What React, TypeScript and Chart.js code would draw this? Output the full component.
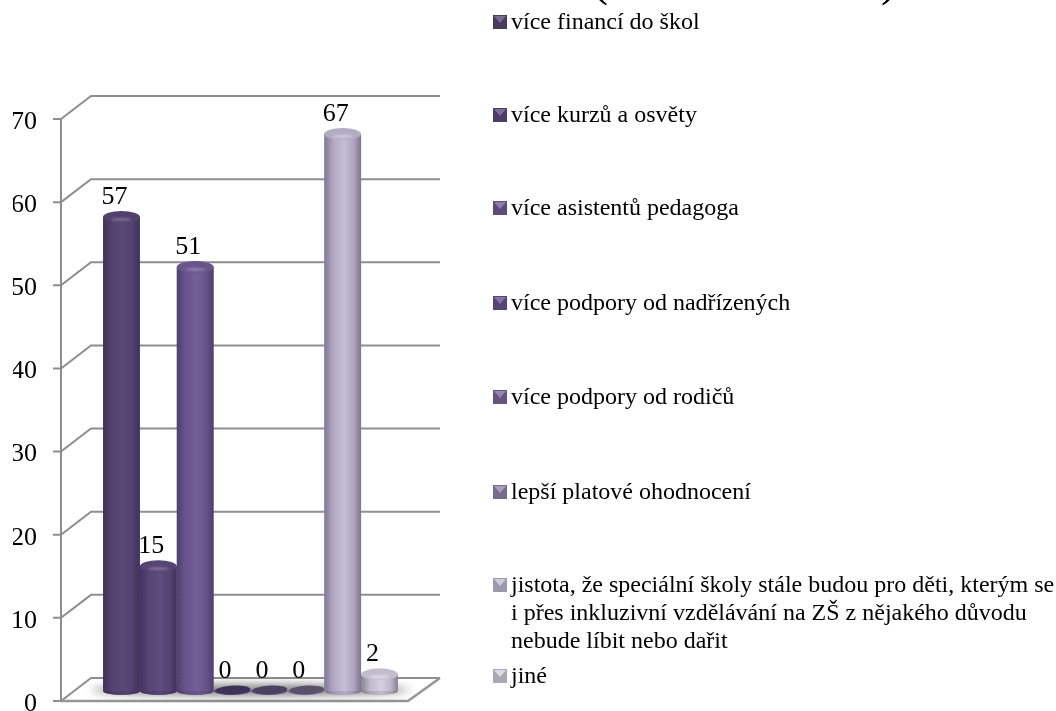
import React, { useEffect, useRef } from "react";
import { Chart, registerables } from "chart.js";

Chart.register(...registerables);

const categoryLabels = [""];
const seriesNames = [
  "více financí do škol",
  "více kurzů a osvěty",
  "více asistentů pedagoga",
  "více podpory od nadřízených",
  "více podpory od rodičů",
  "lepší platové ohodnocení",
  "jistota, že speciální školy stále budou pro děti, kterým se",
  "jiné",
];
const seriesValues = [57, 15, 51, 0, 0, 0, 67, 2];
const seriesColors = ["#5b4878", "#5f4c80", "#745f9a", "#6b5790", "#7e6ca0", "#9488b0", "#c6bed8", "#d6d2e2"];
const legendContinuation = ["i přes inkluzivní vzdělávání na ZŠ z nějakého důvodu", "nebude líbit nebo dařit"];
const legendRowCentres = [22, 115, 208, 303, 397, 492, 585, 676];
const tickStep = 10;
const axisMax = 70;

const SERIF = '"Liberation Serif", serif';
const AXIS_FONT = 26;
const LEGEND_FONT = 24;
// Offsets of the front edge and back wall from the plane the cylinders stand in.
const FRONT = { dx: -15, dy: 10 };
const BACK = { dx: 15, dy: -13 };
const CAP_RY = 6;

function shade(hex: string, k: number): string {
  const n = parseInt(hex.slice(1), 16);
  const c = [(n >> 16) & 255, (n >> 8) & 255, n & 255].map((v) =>
    Math.round(k <= 1 ? v * k : v + (255 - v) * (k - 1))
  );
  return `rgb(${c[0]},${c[1]},${c[2]})`;
}

// Walls, floor and tick marks of the 3D frame, all derived from the value scale.
const framePlugin = {
  id: "frame",
  beforeDatasetsDraw(chart: any) {
    const { ctx, chartArea, scales } = chart;
    const y = scales.y;
    const fl = chartArea.left + FRONT.dx;
    const fr = chartArea.right + FRONT.dx - 2;
    const bl = chartArea.left + BACK.dx;
    const br = chartArea.right + BACK.dx;
    ctx.save();
    ctx.strokeStyle = "#8e8e8e";
    ctx.lineWidth = 2;
    for (let v = 0; v <= axisMax; v += tickStep) {
      const p = y.getPixelForValue(v);
      ctx.beginPath();
      ctx.moveTo(fl - 8, p + FRONT.dy);
      ctx.lineTo(fl, p + FRONT.dy);
      ctx.lineTo(bl, p + BACK.dy);
      ctx.lineTo(br, p + BACK.dy);
      ctx.stroke();
    }
    const p0 = y.getPixelForValue(0);
    ctx.beginPath();
    ctx.moveTo(fl, y.getPixelForValue(axisMax) + FRONT.dy);
    ctx.lineTo(fl, p0 + FRONT.dy);
    ctx.stroke();
    ctx.lineWidth = 2.5;
    ctx.strokeStyle = "#969696";
    ctx.beginPath();
    ctx.moveTo(fl, p0 + FRONT.dy);
    ctx.lineTo(fr, p0 + FRONT.dy);
    ctx.lineTo(br, p0 + BACK.dy);
    ctx.stroke();

    // Soft shadow on the floor and the cylinder bases.
    const bars = chart.data.datasets.map((_: any, i: number) => chart.getDatasetMeta(i).data[0]);
    const first = bars[0];
    const last = bars[bars.length - 1];
    ctx.save();
    ctx.filter = "blur(4px)";
    ctx.fillStyle = "rgba(40,40,40,0.6)";
    ctx.beginPath();
    ctx.ellipse(
      (first.x + last.x) / 2,
      p0 - 1,
      (last.x - first.x) / 2 + first.width / 2 + 12,
      5.5,
      0,
      0,
      Math.PI * 2
    );
    ctx.fill();
    ctx.restore();
    bars.forEach((b: any, i: number) => {
      ctx.fillStyle = shade(seriesColors[i], 0.9);
      ctx.beginPath();
      ctx.ellipse(b.x, b.base, b.width / 2, 4, 0, 0, Math.PI * 2);
      ctx.fill();
    });
    ctx.restore();
  },
  // Rounds each bar into a cylinder: side shading, lit top cap, value above.
  afterDatasetsDraw(chart: any) {
    const { ctx } = chart;
    ctx.save();
    chart.data.datasets.forEach((ds: any, i: number) => {
      const b = chart.getDatasetMeta(i).data[0];
      const color = seriesColors[i];
      const l = b.x - b.width / 2;
      const r = b.x + b.width / 2;
      const flat = ds.data[0] === 0;
      if (!flat) {
        const g = ctx.createLinearGradient(l, 0, r, 0);
        g.addColorStop(0, "rgba(25,15,45,0.4)");
        g.addColorStop(0.25, "rgba(25,15,45,0.12)");
        g.addColorStop(0.55, "rgba(25,15,45,0)");
        g.addColorStop(0.8, "rgba(25,15,45,0.14)");
        g.addColorStop(1, "rgba(25,15,45,0.42)");
        ctx.fillStyle = g;
        ctx.beginPath();
        ctx.moveTo(l, b.y);
        ctx.lineTo(l, b.base);
        ctx.ellipse(b.x, b.base, b.width / 2, 4, 0, Math.PI, 0, true);
        ctx.lineTo(r, b.y);
        ctx.closePath();
        ctx.fill();
        ctx.fillStyle = shade(color, 0.9);
        ctx.beginPath();
        ctx.ellipse(b.x, b.y, b.width / 2, CAP_RY, 0, 0, Math.PI * 2);
        ctx.fill();
        ctx.save();
        ctx.filter = "blur(1px)";
        ctx.fillStyle = shade(color, 1.22);
        ctx.beginPath();
        ctx.ellipse(b.x, b.y + 2.5, b.width / 3.5, 1.5, 0, 0, Math.PI * 2);
        ctx.fill();
        ctx.restore();
      } else {
        ctx.fillStyle = shade(color, 0.6);
        ctx.beginPath();
        ctx.ellipse(b.x + 1, b.base - 1, b.width / 2 - 1, 4.5, -0.05, 0, Math.PI * 2);
        ctx.fill();
      }
      ctx.fillStyle = "#000";
      ctx.font = `${AXIS_FONT}px ${SERIF}`;
      ctx.textAlign = "center";
      ctx.textBaseline = "middle";
      ctx.fillText(String(ds.data[0]), b.x - 7, b.y - 20);
    });
    ctx.restore();
  },
};

// Legend on the right, with bevelled swatches and the cropped heading above it.
const legendPlugin = {
  id: "sideLegend",
  afterDraw(chart: any) {
    const { ctx } = chart;
    ctx.save();
    ctx.fillStyle = "#000";
    ctx.font = `48px ${SERIF}`;
    ctx.textAlign = "center";
    ctx.textBaseline = "alphabetic";
    ctx.fillText("(", 600, -5);
    ctx.fillText(")", 889, -5);

    ctx.font = `${LEGEND_FONT}px ${SERIF}`;
    ctx.textAlign = "left";
    ctx.textBaseline = "middle";
    seriesNames.forEach((name, i) => {
      const cy = legendRowCentres[i];
      const x = 493;
      const y = cy - 7;
      const s = 14;
      ctx.fillStyle = shade(seriesColors[i], 0.8);
      ctx.fillRect(x, y, s, s);
      ctx.fillStyle = shade(seriesColors[i], 1.18);
      ctx.beginPath();
      ctx.moveTo(x + 1, y + 1);
      ctx.lineTo(x + s - 1, y + 1);
      ctx.lineTo(x + s / 2, y + s / 2 + 1);
      ctx.closePath();
      ctx.fill();
      ctx.fillStyle = "#000";
      ctx.fillText(name, 511, cy + 1);
    });
    legendContinuation.forEach((line, i) => {
      ctx.fillText(line, 511, legendRowCentres[6] + 1 + 28 * (i + 1));
    });
    ctx.restore();
  },
};

export default function App() {
  const ref = useRef<HTMLCanvasElement>(null);

  useEffect(() => {
    const chart = new Chart(ref.current!, {
      type: "bar",
      data: {
        labels: categoryLabels,
        datasets: seriesNames.map((name, i) => ({
          label: name,
          data: [seriesValues[i]],
          backgroundColor: seriesColors[i],
          borderWidth: 0,
          barPercentage: 1,
          categoryPercentage: 0.845,
        })),
      },
      options: {
        responsive: false,
        animation: false,
        layout: { padding: { left: 13, right: 631, top: 109, bottom: 20 } },
        plugins: { legend: { display: false }, title: { display: false }, tooltip: { enabled: false } },
        scales: {
          x: { display: false },
          y: {
            min: 0,
            max: axisMax,
            grid: { display: false, drawTicks: false },
            border: { display: false },
            afterFit(axis: any) {
              // The wide gap holds the receding left wall, so the axis box is set directly.
              axis.width = 63;
              axis.paddingTop = 0;
              axis.paddingBottom = 0;
            },
            ticks: {
              stepSize: tickStep,
              padding: 39,
              labelOffset: 13,
              color: "#000",
              font: { family: SERIF, size: AXIS_FONT },
            },
          },
        },
      },
      plugins: [framePlugin, legendPlugin],
    } as any);
    return () => chart.destroy();
  }, []);

  return (
    <div style={{ position: "fixed", left: 0, top: 0, width: 1056, height: 711, background: "#fff" }}>
      <canvas ref={ref} width={1056} height={711} style={{ display: "block" }} />
    </div>
  );
}
